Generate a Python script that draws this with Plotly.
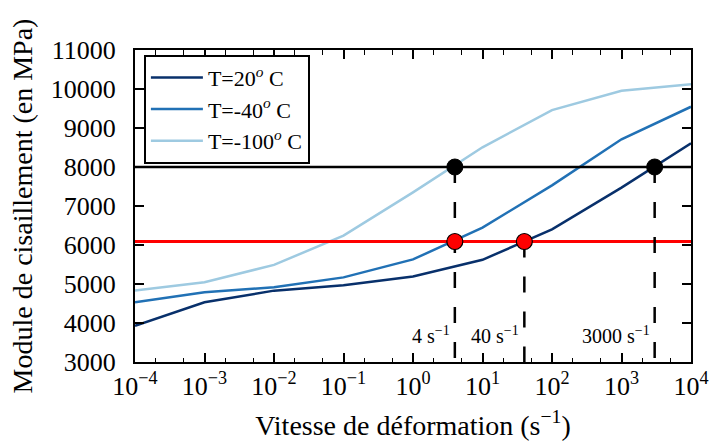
import numpy as np
import plotly.graph_objects as go

# ---- data ----
rates = [1e-4, 1e-3, 1e-2, 1e-1, 1e0, 1e1, 1e2, 1e3, 1e4]
g_20 = [3930, 4530, 4830, 4970, 5190, 5620, 6400, 7470, 8610]
g_m40 = [4530, 4790, 4915, 5170, 5630, 6445, 7530, 8710, 9545]
g_m100 = [4830, 5045, 5490, 6240, 7350, 8505, 9460, 9955, 10125]
series_names = ["T=20<sup><i>o</i></sup> C", "T=-40<sup><i>o</i></sup> C", "T=-100<sup><i>o</i></sup> C"]
series_colors = ["#08306b", "#2171b5", "#9ecae1"]

level_black = 8000
level_red = 6090
black_pts_x = [4, 3000]
red_pts_x = [4, 40]
marked_rates = [4, 40, 3000]
marked_tops = [level_black, level_red, level_black]
marked_labels = ["4 s<sup>−1</sup>", "40 s<sup>−1</sup>", "3000 s<sup>−1</sup>"]

x_range = [1e-4, 1e4]
y_range = [3000, 11000]
x_tickvals = [1e-4, 1e-3, 1e-2, 1e-1, 1e0, 1e1, 1e2, 1e3, 1e4]
x_ticktext = ["10<sup>−4</sup>", "10<sup>−3</sup>", "10<sup>−2</sup>", "10<sup>−1</sup>",
              "10<sup>0</sup>", "10<sup>1</sup>", "10<sup>2</sup>", "10<sup>3</sup>", "10<sup>4</sup>"]
y_tickvals = [3000, 4000, 5000, 6000, 7000, 8000, 9000, 10000, 11000]
y_ticktext = ["3000", "4000", "5000", "6000", "7000", "8000", "9000", "10000", "11000"]

FONT = "Liberation Serif"

fig = go.Figure()

for vals, name, col in zip([g_20, g_m40, g_m100], series_names, series_colors):
    fig.add_trace(go.Scatter(x=rates, y=vals, mode="lines", name=name,
                             line=dict(color=col, width=2.5)))

# horizontal reference lines
fig.add_trace(go.Scatter(x=x_range, y=[level_black, level_black], mode="lines",
                         line=dict(color="black", width=2.5), showlegend=False))
fig.add_trace(go.Scatter(x=x_range, y=[level_red, level_red], mode="lines",
                         line=dict(color="red", width=3), showlegend=False))

# dashed vertical lines
for xr, top in zip(marked_rates, marked_tops):
    fig.add_trace(go.Scatter(x=[xr, xr], y=[top, y_range[0]], mode="lines",
                             line=dict(color="black", width=2.5, dash="16px,19px"),
                             showlegend=False))

# markers
fig.add_trace(go.Scatter(x=black_pts_x, y=[level_black] * len(black_pts_x), mode="markers",
                         marker=dict(color="black", size=16, line=dict(color="black", width=1)),
                         showlegend=False))
fig.add_trace(go.Scatter(x=red_pts_x, y=[level_red] * len(red_pts_x), mode="markers",
                         marker=dict(color="red", size=16, line=dict(color="black", width=1.2)),
                         showlegend=False))

for xr, lab in zip(marked_rates, marked_labels):
    fig.add_annotation(x=np.log10(xr), y=3700, text=lab, showarrow=False,
                       xanchor="right", yanchor="middle", xshift=-3,
                       font=dict(family=FONT, size=20, color="black"))

fig.update_layout(
    width=711, height=441,
    margin=dict(l=135, r=20, t=50, b=79),
    paper_bgcolor="white", plot_bgcolor="white",
    font=dict(family=FONT, size=26, color="black"),
    legend=dict(x=0.016, y=0.985, xanchor="left", yanchor="top",
                bordercolor="black", borderwidth=2, bgcolor="white",
                font=dict(family=FONT, size=22), itemwidth=52,
                tracegroupgap=0),
)

fig.update_xaxes(type="log", range=[np.log10(x_range[0]), np.log10(x_range[1])],
                 tickvals=x_tickvals, ticktext=x_ticktext, automargin=False,
                 ticks="inside", ticklen=9, tickwidth=1.5, tickcolor="black",
                 showline=True, linecolor="black", linewidth=2, mirror="allticks",
                 showgrid=False, zeroline=False,
                 minor=dict(ticks="inside", ticklen=4.5, tickwidth=1, tickcolor="black",
                            dtick="D2", showgrid=False),
                 tickfont=dict(family=FONT, size=26),
                 title=dict(text="Vitesse de déformation (s<sup>−1</sup>)",
                            font=dict(family=FONT, size=28), standoff=16))
fig.update_yaxes(range=y_range, tickvals=y_tickvals, ticktext=y_ticktext, automargin=False,
                 ticks="inside", ticklen=9, tickwidth=1.5, tickcolor="black",
                 showline=True, linecolor="black", linewidth=2, mirror="allticks",
                 showgrid=False, zeroline=False, ticklabelstandoff=12,
                 tickfont=dict(family=FONT, size=26),
                 title=dict(text="Module de cisaillement (en MPa)",
                            font=dict(family=FONT, size=28), standoff=10))

fig.write_html("out.html", config={"displayModeBar": False},
               post_script="document.body.style.margin='0';document.body.style.overflow='hidden';")
